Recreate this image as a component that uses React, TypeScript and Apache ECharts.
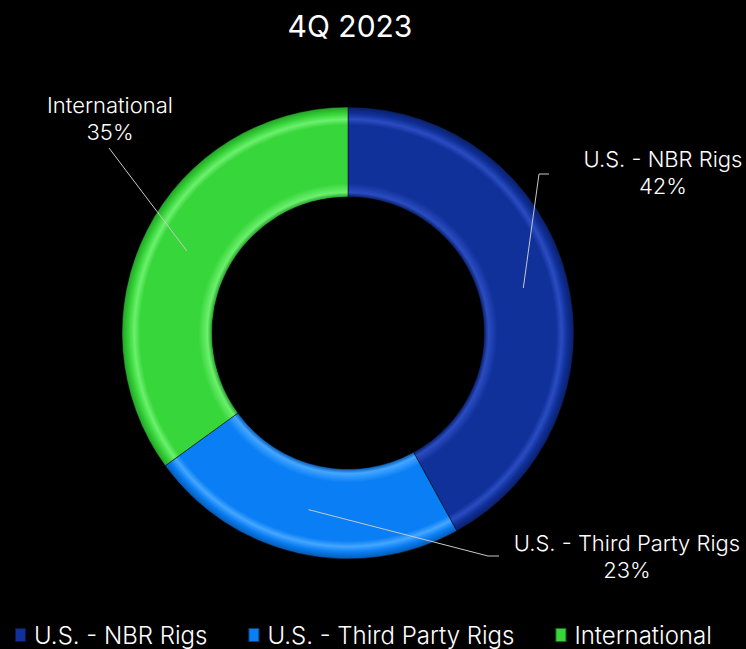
import React, { useEffect, useRef } from "react";
import * as echarts from "echarts";

const title = "4Q 2023";
const categories = ["U.S. - NBR Rigs", "U.S. - Third Party Rigs", "International"];
const values = [42, 23, 35];
const colors = ["#10309a", "#0a7ff5", "#37d63a"];
const lightColors = ["#2a4cc0", "#45a6ff", "#6cf06e"];
const darkColors = ["#0a1f66", "#0659b0", "#24a028"];
// label centres and leader-line bends (annotation layout)
const labelPos = [
  [663, 172],
  [627, 556],
  [110, 118],
];
const leaderBends = [
  [[539, 174], [549, 174]],
  [[488, 556], [499, 556]],
  [[109, 148], [109, 148]],
];

const CX = 348;
const CY = 333;
const R_IN = 136;
const R_OUT = 226;

function grad(i: number) {
  const base = colors[i];
  const light = lightColors[i];
  const dark = darkColors[i];
  const k = R_IN / R_OUT;
  return {
    type: "radial",
    x: CX,
    y: CY,
    r: R_OUT,
    global: true,
    colorStops: [
      { offset: 0, color: base },
      { offset: k, color: dark },
      { offset: k + 0.02, color: light },
      { offset: k + 0.06, color: base },
      { offset: 0.92, color: base },
      { offset: 0.945, color: light },
      { offset: 0.97, color: base },
      { offset: 1, color: dark },
    ],
  };
}

export default function App() {
  const ref = useRef<HTMLDivElement>(null);
  useEffect(() => {
    if (!ref.current) return;
    const chart = echarts.init(ref.current, null, { renderer: "svg" });
    const total = values.reduce((a, b) => a + b, 0);
    const mids: number[] = [];
    let acc = 0;
    values.forEach((v) => {
      mids.push(((acc + v / 2) / total) * Math.PI * 2);
      acc += v;
    });
    chart.setOption({
      animation: false,
      backgroundColor: "#000000",
      title: {
        text: title,
        left: 345,
        top: 6,
        textAlign: "center",
        textStyle: { color: "#ffffff", fontFamily: "Inter", fontWeight: 400, fontSize: 30 },
      },
      legend: {
        bottom: 2,
        left: 14,
        padding: 0,
        itemWidth: 11,
        itemHeight: 14,
        itemGap: 40,
        icon: "rect",
        data: categories.map((c, i) => ({ name: c, itemStyle: { color: colors[i] } })),
        textStyle: { color: "#ffffff", fontFamily: "Inter", fontWeight: 300, fontSize: 24, padding: [0, 0, 0, 3] },
      },
      series: [
        {
          type: "pie",
          center: [CX, CY],
          radius: [R_IN, R_OUT],
          startAngle: 90,
          clockwise: true,
          data: categories.map((c, i) => ({
            name: c,
            value: values[i],
            itemStyle: { color: grad(i) },
          })),
          itemStyle: {
            borderColor: "rgba(0,0,0,0.5)",
            borderWidth: 1,
          },
          label: { show: false },
          labelLine: { show: false },
        },
        {
          type: "pie",
          center: [CX, CY],
          radius: [R_IN, R_OUT],
          startAngle: 90,
          clockwise: true,
          z: 5,
          silent: true,
          data: categories.map((c, i) => ({
            name: c,
            value: values[i],
            itemStyle: { color: "rgba(0,0,0,0)" },
          })),
          itemStyle: { borderWidth: 0 },
          label: {
            show: true,
            formatter: "{b}\n{d}%",
            color: "#ffffff",
            fontFamily: "Inter",
            fontWeight: 300,
            fontSize: 22,
            lineHeight: 27,
            align: "center",
            overflow: "none",
          },
          labelLine: {
            show: true,
            length: 20,
            length2: 10,
            lineStyle: { color: "#c8c8c8", width: 1 },
          },
          labelLayout: (params: any) => {
            const i = params.dataIndex;
            const p = labelPos[i];
            const rm = (R_IN + R_OUT) / 2;
            const start = [CX + Math.sin(mids[i]) * rm, CY - Math.cos(mids[i]) * rm];
            return {
              x: p[0],
              y: p[1],
              align: "center",
              verticalAlign: "middle",
              labelLinePoints: [start, leaderBends[i][0], leaderBends[i][1]],
            };
          },
        },
      ],
    });
    return () => chart.dispose();
  }, []);
  return <div ref={ref} style={{ width: 746, height: 649, position: "absolute", left: 0, top: 0 }} />;
}
